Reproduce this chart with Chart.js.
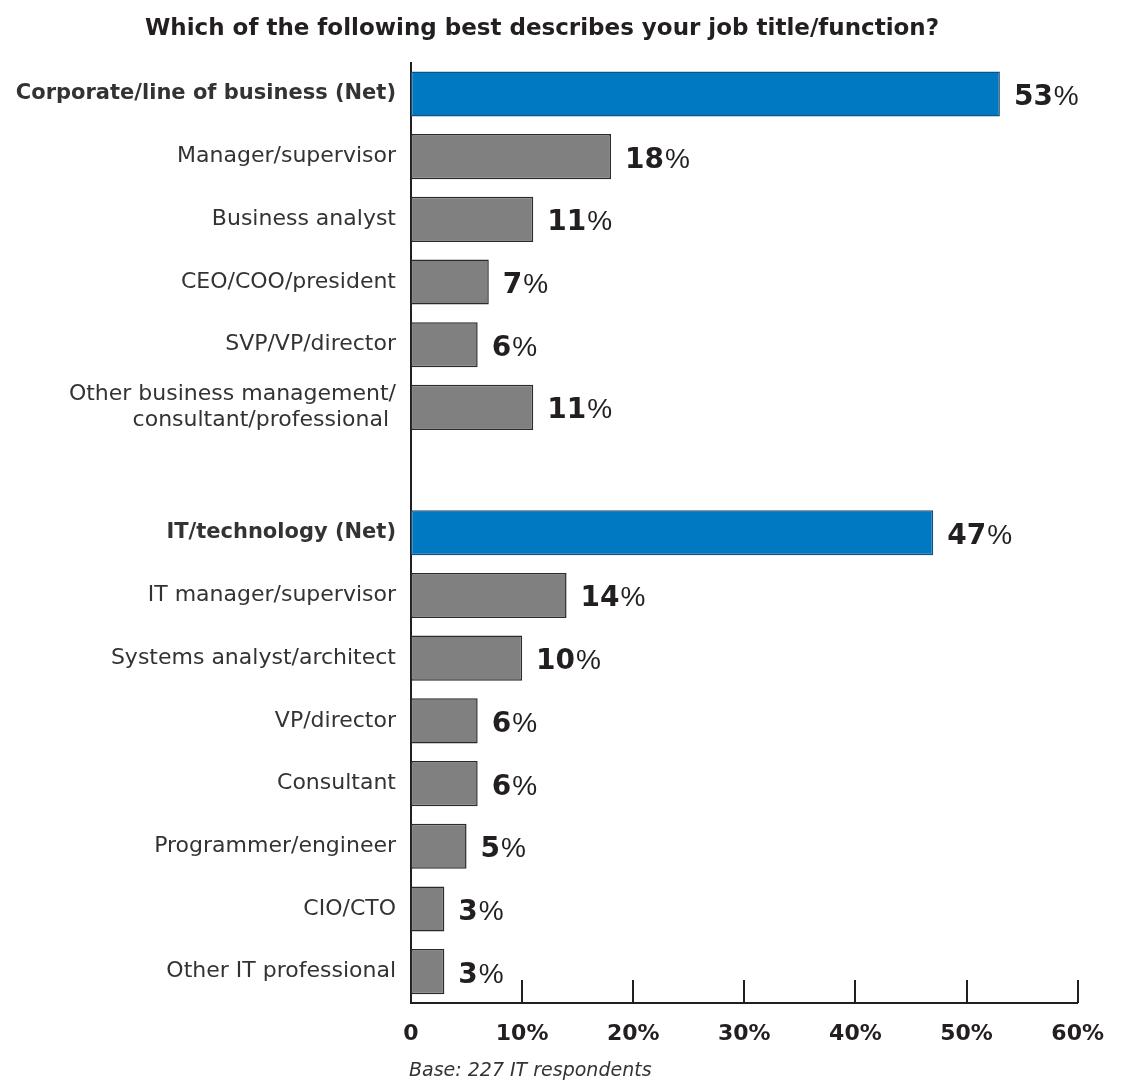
<!DOCTYPE html>
<html>
<head>
<meta charset="utf-8">
<title>Job title/function</title>
<script src="https://cdn.jsdelivr.net/npm/chart.js@4/dist/chart.umd.min.js"></script>
<style>
  html, body { margin: 0; padding: 0; background: #fff; }
  #wrap { width: 1122px; height: 1086px; position: relative; }
</style>
</head>
<body>
<div id="wrap"><canvas id="chart"></canvas></div>
<script>
"use strict";

const FONT = "'DejaVu Sans', Verdana, sans-serif";
const PCT_FONT = "'Liberation Sans', Arial, sans-serif";
const INK = "#231f20";

// Rows top to bottom; the empty entry is the spacer between the two groups
const categories = [
  "Corporate/line of business (Net)",
  "Manager/supervisor",
  "Business analyst",
  "CEO/COO/president",
  "SVP/VP/director",
  ["Other business management/", "consultant/professional "],
  "",
  "IT/technology (Net)",
  "IT manager/supervisor",
  "Systems analyst/architect",
  "VP/director",
  "Consultant",
  "Programmer/engineer",
  "CIO/CTO",
  "Other IT professional",
];
const shares = [53, 18, 11, 7, 6, 11, null, 47, 14, 10, 6, 6, 5, 3, 3];
const netRows = [0, 7];
const xTicks = [0, 10, 20, 30, 40, 50, 60];
const baseNote = "Base: 227 IT respondents";

const isNet = (i) => netRows.includes(i);

// value labels: bold number followed by a lighter percent sign
const valueLabels = {
  id: "valueLabels",
  afterDatasetsDraw(chart) {
    const { ctx } = chart;
    const meta = chart.getDatasetMeta(0);
    ctx.save();
    ctx.textBaseline = "alphabetic";
    ctx.fillStyle = INK;
    meta.data.forEach((bar, i) => {
      const v = shares[i];
      if (v == null) return;
      const x = bar.x + 14;
      const base = bar.y + 11;
      ctx.font = "bold 28px " + FONT;
      const num = String(v);
      ctx.fillText(num, x, base);
      const w = ctx.measureText(num).width;
      ctx.font = "normal 28px " + PCT_FONT;
      ctx.fillText("%", x + w + 1, base);
    });
    ctx.restore();
  },
};

// short upward tick marks on the x axis plus the base note under it
const axisDecor = {
  id: "axisDecor",
  afterDraw(chart) {
    const { ctx, chartArea } = chart;
    const xs = chart.scales.x;
    ctx.save();
    ctx.strokeStyle = INK;
    ctx.lineWidth = 2;
    xTicks.slice(1).forEach((t) => {
      const px = Math.round(xs.getPixelForValue(t));
      ctx.beginPath();
      ctx.moveTo(px, chartArea.bottom);
      ctx.lineTo(px, chartArea.bottom - 23);
      ctx.stroke();
    });
    ctx.font = "oblique 19px " + FONT;
    ctx.fillStyle = "#333";
    ctx.textBaseline = "middle";
    ctx.fillText(baseNote, chartArea.left - 2, chartArea.bottom + 68);
    ctx.restore();
  },
};

new Chart(document.getElementById("chart"), {
  type: "bar",
  data: {
    labels: categories,
    datasets: [
      {
        data: shares,
        backgroundColor: shares.map((_, i) => (isNet(i) ? "#0079c2" : "#808080")),
        borderColor: shares.map((_, i) => (isNet(i) ? "#14507e" : "#2b2b2b")),
        borderWidth: 1.5,
        borderSkipped: false,
        barPercentage: 0.72,
        categoryPercentage: 1,
      },
    ],
  },
  options: {
    indexAxis: "y",
    responsive: true,
    maintainAspectRatio: false,
    animation: false,
    layout: { padding: { left: 0, right: 38, top: 0, bottom: 0 } },
    plugins: {
      legend: { display: false },
      tooltip: { enabled: false },
      title: {
        display: true,
        text: "Which of the following best describes your job title/function?",
        color: INK,
        font: { family: FONT, size: 23, weight: "bold", lineHeight: 1.2 },
        padding: { top: 15, bottom: 20 },
      },
    },
    scales: {
      x: {
        min: 0,
        max: 60,
        afterBuildTicks: (s) => { s.ticks = xTicks.map((v) => ({ value: v })); },
        afterFit: (s) => { s.height = 83; },
        grid: { display: false, drawTicks: false },
        border: { display: true, color: INK, width: 2 },
        ticks: {
          padding: 18,
          color: INK,
          font: { family: FONT, size: 22, weight: "bold" },
          callback: (v) => (v === 0 ? "0" : v + "%"),
          maxRotation: 0,
        },
      },
      y: {
        afterFit: (s) => { s.width = 411; },
        grid: { display: false, drawTicks: false },
        border: { display: true, color: INK, width: 2 },
        ticks: {
          padding: 15,
          color: "#333",
          autoSkip: false,
          font: (c) => ({
            family: FONT,
            size: isNet(c.index) ? 21 : 22,
            weight: isNet(c.index) ? "bold" : "normal",
            lineHeight: 1.18,
          }),
        },
      },
    },
  },
  plugins: [valueLabels, axisDecor],
});
</script>
</body>
</html>
